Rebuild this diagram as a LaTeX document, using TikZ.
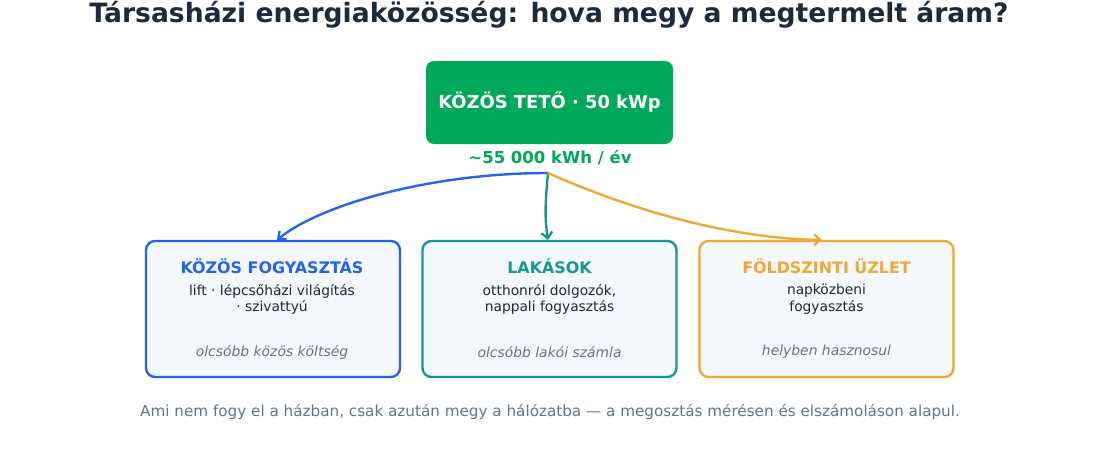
\documentclass[tikz,border=0pt]{standalone}
\usepackage{fontspec}
\setmainfont{DejaVu Sans}
\usetikzlibrary{arrows.meta}
\definecolor{navy}{HTML}{1E293B}
\definecolor{topgreen}{HTML}{00A859}
\definecolor{cblue}{HTML}{2563EB}
\definecolor{cteal}{HTML}{16998A}
\definecolor{corange}{HTML}{EFA833}
\definecolor{boxfill}{HTML}{F4F7FB}
\definecolor{txtdark}{HTML}{1E293B}
\definecolor{txtgray}{HTML}{64748B}
\tikzset{
  catbox/.style={draw=#1, line width=2.4pt, fill=boxfill, rounded corners=9pt, minimum width=254pt, minimum height=136pt, inner sep=0pt},
  cattitle/.style={text=#1, font=\fontsize{15.9}{18}\selectfont\bfseries, anchor=center},
  catbody/.style={text=txtdark, font=\fontsize{13.8}{16.5}\selectfont, align=center, anchor=north},
  catnote/.style={text=txtgray, font=\fontsize{13.9}{16}\selectfont\itshape, anchor=center},
  flow/.style={line width=2.4pt, draw=#1, -{Straight Barb[length=6pt,width=11pt]}},
}
\begin{document}
\begin{tikzpicture}[x=1pt,y=-1pt]
\useasboundingbox (0,0) rectangle (1100,450);
\node[text=navy, font=\fontsize{26.6}{30}\selectfont\bfseries] (title) at (549,15) {Társasházi energiaközösség: hova megy a megtermelt áram?};
\node[fill=topgreen, rounded corners=8pt, minimum width=247pt, minimum height=83pt, text=white, font=\fontsize{17.9}{21}\selectfont\bfseries] (roof) at (549.5,102.5) {KÖZÖS TETŐ · 50 kWp};
\node[text=topgreen, font=\fontsize{16.5}{19}\selectfont\bfseries] (yield) at (550,158) {\textasciitilde55 000 kWh / év};
\coordinate (j) at (548,173);
\node[catbox=cblue] (b1) at (273,309) {};
\node[catbox=cteal] (b2) at (549.5,309) {};
\node[catbox=corange] (b3) at (826.5,309) {};
\node[cattitle=cblue] (t1) at (272,266) {KÖZÖS FOGYASZTÁS};
\node[cattitle=cteal] (t2) at (549.5,266) {LAKÁSOK};
\node[cattitle=corange] (t3) at (826.5,266) {FÖLDSZINTI ÜZLET};
\node[catbody] (d1) at (272,280.5) {lift · lépcsőházi világítás\\· szivattyú};
\node[catbody] (d2) at (549.5,280.5) {otthonról dolgozók,\\nappali fogyasztás};
\node[catbody] (d3) at (826.5,280.5) {napközbeni\\fogyasztás};
\node[catnote] (n1) at (272,352) {olcsóbb közös költség};
\node[catnote] (n2) at (549.5,352) {olcsóbb lakói számla};
\node[catnote] (n3) at (826.5,352) {helyben hasznosul};
\draw[flow=cblue] (j) .. controls (430,173) and (320,205) .. (277,240);
\draw[flow=cteal] (j) .. controls (546,195) and (544,215) .. (548,240);
\draw[flow=corange] (j) .. controls (620,205) and (720,238) .. (822,240);
\node[text=txtgray, font=\fontsize{15.2}{18}\selectfont] (foot) at (550,412) {Ami nem fogy el a házban, csak azután megy a hálózatba — a megosztás mérésen és elszámoláson alapul.};
\end{tikzpicture}
\end{document}
